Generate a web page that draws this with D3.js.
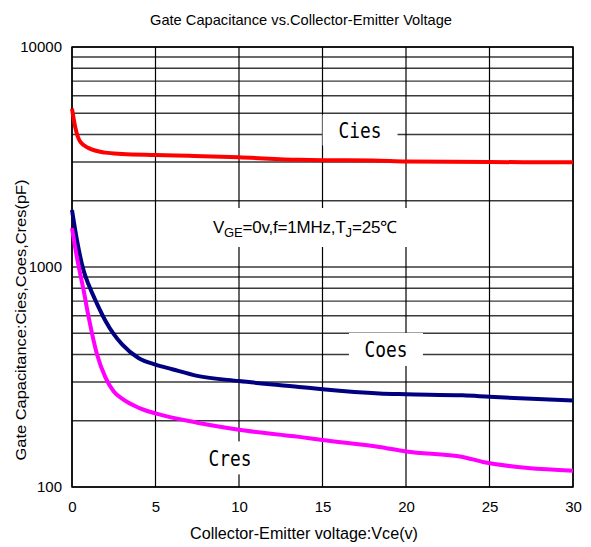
<!DOCTYPE html>
<html>
<head>
<meta charset="utf-8">
<script src="https://cdn.jsdelivr.net/npm/d3@7"></script>
<style>
  body { margin: 0; background: #fff; }
  text { font-family: "Liberation Sans", Arial, sans-serif; fill: #000; }
</style>
</head>
<body>
<svg id="drawing_region"></svg>
<script>
// values (Vce in volts, capacitance in pF)
const cies_vce = [0, 0.2, 0.5, 1, 2, 3, 5, 7, 10, 13.6, 15, 18, 20, 25, 30];
const cies_pf  = [5250, 4300, 3700, 3470, 3310, 3265, 3230, 3200, 3150, 3070, 3060, 3050, 3020, 3000, 2990];

const coes_vce = [0, 0.3, 0.7, 1, 1.5, 2, 2.5, 3, 4, 5, 6, 7.5, 10, 13.6, 15, 18.4, 20, 23.4, 25, 30];
const coes_pf  = [1815, 1320, 960, 830, 680, 570, 495, 445, 385, 360, 343, 320, 303, 285, 278, 266, 264, 261, 257, 247];

const cres_vce = [0, 0.3, 0.7, 1, 1.5, 2, 2.5, 3, 4, 5, 7.5, 10, 13.6, 15, 18.4, 20, 23.4, 24.6, 30];
const cres_pf  = [1500, 1100, 780, 590, 400, 315, 272, 252, 229, 216, 196, 182, 169, 163.5, 152, 145, 137, 130, 118.6];

const x_ticks = [0, 5, 10, 15, 20, 25, 30];
const y_ticks = [100, 1000, 10000];
const y_grid  = [100, 200, 300, 400, 500, 600, 700, 800, 900,
                 1000, 2000, 3000, 4000, 5000, 6000, 7000, 8000, 9000, 10000];

const series = [
    { name: "Cies", vce: cies_vce, pf: cies_pf, color: "#ff0000" },
    { name: "Coes", vce: coes_vce, pf: coes_pf, color: "#000080" },
    { name: "Cres", vce: cres_vce, pf: cres_pf, color: "#ff00ff" }
];

var config = {
    parent: '#drawing_region',
    width: 591,
    height: 547,
    margin: {top:47, right:18, bottom:60, left:72}
};

class CapChart {

    constructor( config, series ) {
        this.config = config;
        this.series = series.map( s => ({
            name: s.name, color: s.color,
            points: s.vce.map( (v, i) => ({ x: v, y: s.pf[i] }) )
        }));
        this.init();
    }

    init() {
        let self = this;

        self.svg = d3.select( self.config.parent )
            .attr('width', self.config.width)
            .attr('height', self.config.height);

        self.inner_width = self.config.width - self.config.margin.left - self.config.margin.right;
        self.inner_height = self.config.height - self.config.margin.top - self.config.margin.bottom;

        self.chart = self.svg.append('g')
            .attr('transform', `translate(${self.config.margin.left}, ${self.config.margin.top})`);

        self.xscale = d3.scaleLinear()
            .domain( [0, 30] )
            .range( [0, self.inner_width] );

        self.yscale = d3.scaleLog()
            .domain( [100, 10000] )
            .range( [self.inner_height, 0] );
    }

    render() {
        let self = this;

        // grid
        self.chart.append('g').selectAll('line')
            .data(y_grid)
            .join('line')
            .attr('x1', 0).attr('x2', self.inner_width)
            .attr('y1', d => self.yscale(d)).attr('y2', d => self.yscale(d))
            .attr('stroke', '#3a3a3a')
            .attr('stroke-width', 1.4);

        self.chart.append('g').selectAll('line')
            .data(x_ticks)
            .join('line')
            .attr('x1', d => self.xscale(d)).attr('x2', d => self.xscale(d))
            .attr('y1', 0).attr('y2', self.inner_height)
            .attr('stroke', '#000')
            .attr('stroke-width', 1.2);

        self.chart.append('rect')
            .attr('width', self.inner_width)
            .attr('height', self.inner_height)
            .attr('fill', 'none')
            .attr('stroke', '#000')
            .attr('stroke-width', 1.5);

        // labels with white boxes over the grid
        const labels = [
            { text: "Cies", x: 17.25, y: 4195, w: 75, h: 31 },
            { text: "Coes", x: 18.8,  y: 422,  w: 74, h: 33 },
            { text: "Cres", x: 9.46,  y: 135.6, w: 70, h: 33 }
        ];
        labels.forEach( l => {
            const cx = self.xscale(l.x), cy = self.yscale(l.y);
            self.chart.append('rect')
                .attr('x', cx - l.w/2).attr('y', cy - l.h/2)
                .attr('width', l.w).attr('height', l.h)
                .attr('fill', '#fff');
            self.chart.append('text')
                .attr('x', cx).attr('y', cy + 8)
                .attr('text-anchor', 'middle')
                .attr('font-size', 22)
                .attr('textLength', 43)
                .attr('lengthAdjust', 'spacingAndGlyphs')
                .style('font-family', '"DejaVu Sans Mono", "Liberation Mono", monospace')
                .style('font-weight', 300)
                .text(l.text);
        });

        const cx = self.xscale(13.95), cy = self.yscale(1512);
        self.chart.append('rect')
            .attr('x', cx - 115).attr('y', cy - 19.5)
            .attr('width', 230).attr('height', 39)
            .attr('fill', '#fff');
        const cond = self.chart.append('text')
            .attr('x', cx).attr('y', cy + 6)
            .attr('text-anchor', 'middle')
            .attr('font-size', 17)
            .attr('letter-spacing', -0.2);
        cond.append('tspan').text('V');
        cond.append('tspan').attr('font-size', 13).attr('dy', 4).text('GE');
        cond.append('tspan').attr('dy', -4).text('=0v,f=1MHz,T');
        cond.append('tspan').attr('font-size', 13).attr('dy', 4).text('J');
        cond.append('tspan').attr('dy', -4).text('=25℃');

        // curves
        const line = d3.line()
            .x(d => self.xscale(d.x))
            .y(d => self.yscale(d.y))
            .curve(d3.curveMonotoneX);

        self.chart.selectAll('path.curve')
            .data(self.series)
            .join('path')
            .attr('class', 'curve')
            .attr('d', d => line(d.points))
            .attr('fill', 'none')
            .attr('stroke', d => d.color)
            .attr('stroke-width', 4)
            .attr('stroke-linejoin', 'round');

        // axes
        const xaxis = d3.axisBottom( self.xscale )
            .tickValues(x_ticks)
            .tickSize(0)
            .tickPadding(14);
        const xg = self.chart.append('g')
            .attr('transform', `translate(0, ${self.inner_height})`)
            .call(xaxis);
        xg.select('.domain').remove();
        xg.selectAll('text').attr('font-size', 15).attr('font-family', null);

        const yaxis = d3.axisLeft( self.yscale )
            .tickValues(y_ticks)
            .tickFormat(d3.format('d'))
            .tickSize(0)
            .tickPadding(10);
        const yg = self.chart.append('g').call(yaxis);
        yg.select('.domain').remove();
        yg.selectAll('text').attr('font-size', 15).attr('font-family', null);

        self.svg.append('text')
            .attr('x', 301).attr('y', 25)
            .attr('text-anchor', 'middle')
            .attr('font-size', 15)
            .attr('textLength', 302)
            .attr('lengthAdjust', 'spacingAndGlyphs')
            .text('Gate Capacitance vs.Collector-Emitter Voltage');

        self.svg.append('text')
            .attr('x', 304)
            .attr('y', 539)
            .attr('text-anchor', 'middle')
            .attr('font-size', 16)
            .attr('textLength', 228)
            .attr('lengthAdjust', 'spacingAndGlyphs')
            .text('Collector-Emitter voltage:Vce(v)');

        self.svg.append('text')
            .attr('transform', `translate(26, 320) rotate(-90)`)
            .attr('text-anchor', 'middle')
            .attr('font-size', 15)
            .attr('textLength', 281)
            .attr('lengthAdjust', 'spacingAndGlyphs')
            .text('Gate Capacitance:Cies,Coes,Cres(pF)');
    }
}

const chart = new CapChart( config, series );
chart.render();
</script>
</body>
</html>
